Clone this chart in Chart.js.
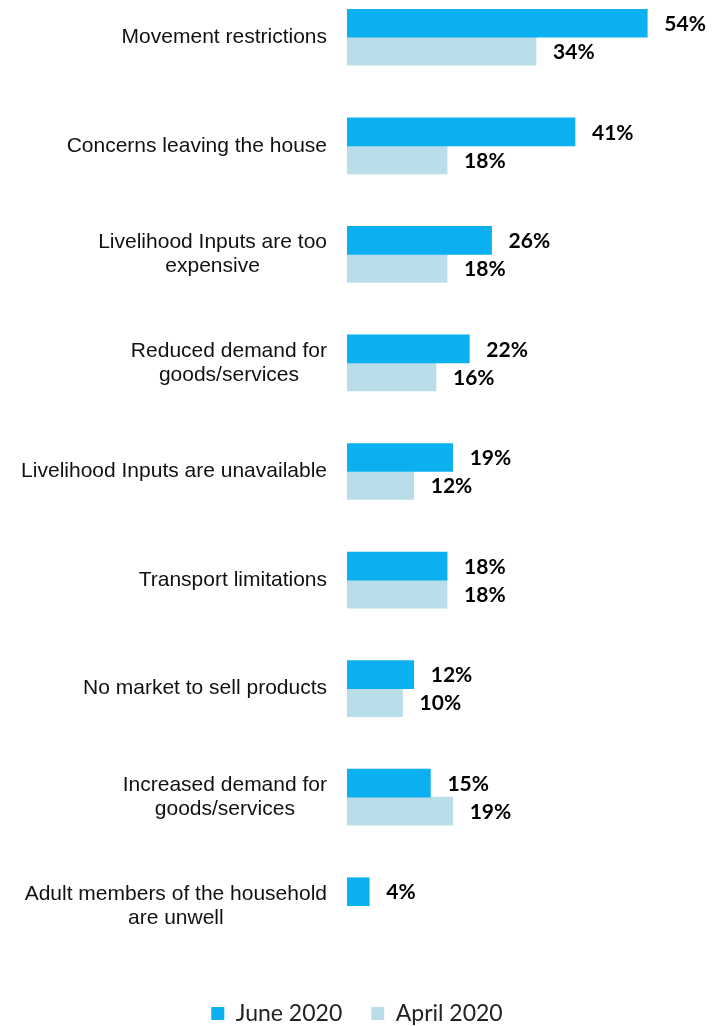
<!DOCTYPE html>
<html>
<head>
<meta charset="utf-8">
<title>Livelihood barriers</title>
<script src="https://cdn.jsdelivr.net/npm/chart.js@4/dist/chart.umd.min.js"></script>
<style>
  html, body { margin: 0; padding: 0; background: #fff; overflow: hidden; }
  /* the first category band starts above the page edge */
  #chart-div { position: absolute; left: 0; top: -17px; width: 714px; height: 1043px; }
</style>
</head>
<body>
<div id="chart-div"><canvas id="myChart"></canvas></div>
<script>
// categories (multi-line ones as arrays)
var categories = [
  "Movement restrictions",
  "Concerns leaving the house",
  ["Livelihood Inputs are too", "expensive"],
  ["Reduced demand for", "goods/services"],
  "Livelihood Inputs are unavailable",
  "Transport limitations",
  "No market to sell products",
  ["Increased demand for", "goods/services"],
  ["Adult members of the household", "are unwell"]
];
var june2020 = [54, 41, 26, 22, 19, 18, 12, 15, 4];
var april2020 = [34, 18, 18, 16, 12, 18, 10, 19, null];
var seriesNames = ["June 2020", "April 2020"];

var juneColor = "#0AB0EF";
var aprilColor = "#B9DEE9";

// category labels: block right-aligned to the axis, lines centred within the block
var categoryLabels = {
  id: "categoryLabels",
  afterDraw: function (chart) {
    var ctx = chart.ctx;
    var scale = chart.scales.y;
    var lineH = 24;
    ctx.save();
    ctx.font = "21px 'Liberation Sans', Arial, sans-serif";
    ctx.fillStyle = "#111";
    ctx.textAlign = "center";
    ctx.textBaseline = "middle";
    categories.forEach(function (label, i) {
      var lines = Array.isArray(label) ? label : [label];
      var widest = 0;
      lines.forEach(function (l) { widest = Math.max(widest, ctx.measureText(l).width); });
      var cx = scale.right - 20 - widest / 2;
      var cy = scale.getPixelForTick(i);
      lines.forEach(function (l, j) {
        ctx.fillText(l, cx, cy + (j - (lines.length - 1) / 2) * lineH);
      });
    });
    ctx.restore();
  }
};

// value labels at the end of each bar
var valueLabels = {
  id: "valueLabels",
  afterDatasetsDraw: function (chart) {
    var ctx = chart.ctx;
    ctx.save();
    ctx.font = "bold 21px Lato, 'Open Sans', sans-serif";
    ctx.fillStyle = "#000";
    ctx.textAlign = "left";
    ctx.textBaseline = "middle";
    chart.data.datasets.forEach(function (ds, d) {
      var meta = chart.getDatasetMeta(d);
      meta.data.forEach(function (bar, i) {
        var v = ds.data[i];
        if (v === null || v === undefined) return;
        ctx.fillText(v + "%", bar.x + 17, bar.y + 1);
      });
    });
    ctx.restore();
  }
};

var canvas = document.getElementById("myChart");
var myChart = new Chart(canvas, {
  type: "bar",
  data: {
    labels: categories,
    datasets: [{
      label: seriesNames[0],
      data: june2020,
      backgroundColor: juneColor,
      barThickness: 28
    }, {
      label: seriesNames[1],
      data: april2020,
      backgroundColor: aprilColor,
      barThickness: 28
    }]
  },
  options: {
    indexAxis: "y",
    responsive: true,
    maintainAspectRatio: false,
    animation: false,
    layout: { padding: { top: 0, bottom: -9, left: 0, right: 0 } },
    scales: {
      x: {
        min: 0,
        max: 66,
        grid: { display: false },
        border: { display: false },
        ticks: { display: false },
        afterFit: function (scale) { scale.height = 13; }
      },
      y: {
        grid: { display: false },
        border: { display: false },
        ticks: { display: false },
        afterFit: function (scale) { scale.width = 347; }
      }
    },
    plugins: {
      tooltip: { enabled: false },
      legend: {
        position: "bottom",
        labels: {
          boxWidth: 13,
          boxHeight: 13,
          padding: 29,
          color: "#222",
          font: { family: "Lato, 'Open Sans', sans-serif", size: 23 }
        }
      }
    }
  },
  plugins: [categoryLabels, valueLabels]
});
</script>
</body>
</html>
